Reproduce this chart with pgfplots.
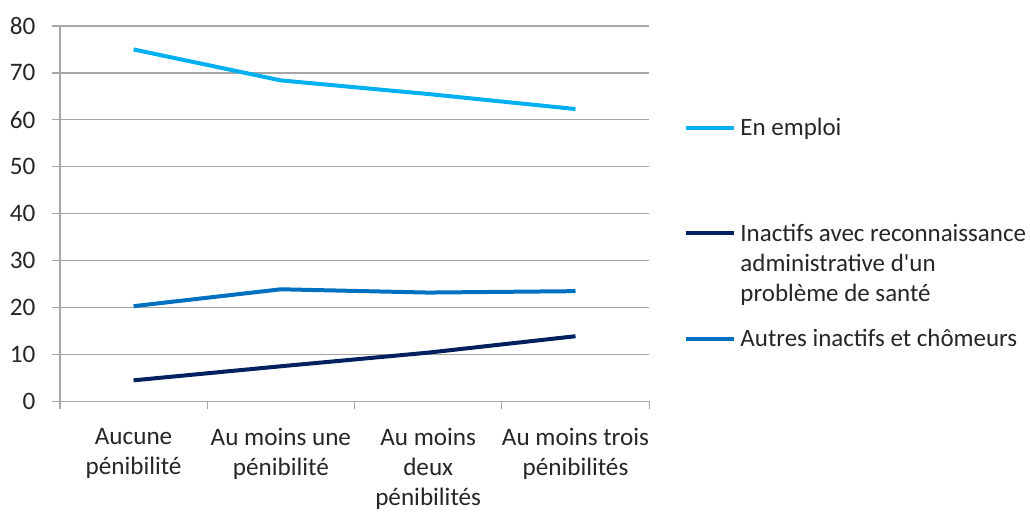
\documentclass[border=0pt]{standalone}
\usepackage{fontspec}
\setmainfont{Carlito}
\usepackage{pgfplots}
\pgfplotsset{compat=1.18}
\definecolor{cLight}{HTML}{00B0F0}
\definecolor{cNavy}{HTML}{002060}
\definecolor{cMid}{HTML}{0070C0}
\definecolor{cGrid}{HTML}{A6A6A6}
\definecolor{cText}{HTML}{262626}
\begin{document}
\fontsize{12.3}{15}\selectfont
\begin{tikzpicture}
\begin{axis}[
  name=ax,
  scale only axis,
  width=295pt, height=188pt,
  xmin=-0.5, xmax=3.5,
  ymin=0, ymax=80,
  ytick={0,10,...,80},
  xtick={0,1,2,3},
  xticklabels={Aucune\\pénibilité, Au moins une\\pénibilité, Au moins\\deux\\pénibilités, Au moins trois\\pénibilités},
  minor xtick={-0.5,0.5,1.5,2.5,3.5},
  major x tick style={draw=none},
  tick align=outside,
  major tick length=4pt,
  minor tick length=4pt,
  tick style={cGrid, line width=0.6pt},
  axis x line*=bottom,
  axis y line*=left,
  axis line style={cGrid, line width=0.6pt},
  ymajorgrids,
  grid style={cGrid, line width=0.6pt},
  /pgf/number format/assume math mode=true,
  ticklabel style={font=\fontsize{12.6}{15}\selectfont, text=cText},
  xticklabel style={align=center, yshift=-5pt},
  yticklabel style={xshift=-4pt},
  clip=false,
  legend cell align=left,
  legend style={draw=none, fill=none, at={(1,1)}, anchor=north west, xshift=17pt, yshift=-44pt,
    font=\fontsize{12.5}{15}\selectfont, text=cText, row sep=0pt, column sep=0pt, inner sep=0pt,
    cells={anchor=base west, inner sep=0.6pt}},
  legend image code/.code={\draw[#1] (1.5pt,4pt) -- (26pt,4pt);},
]
\addplot[cLight, line width=2pt] coordinates {(0,75.0) (1,68.4) (2,65.5) (3,62.3)};
\addlegendentry{En emploi}
\addplot[cNavy, line width=2pt] coordinates {(0,4.5) (1,7.5) (2,10.4) (3,13.9)};
\addlegendentry{\begin{tabular}[t]{@{}l@{}}\rule{0pt}{47pt}Inactifs avec reconnaissance\\administrative d\textquotesingle un\\problème de santé\end{tabular}}
\addplot[cMid, line width=2pt] coordinates {(0,20.3) (1,23.9) (2,23.2) (3,23.5)};
\addlegendentry{\rule{0pt}{47pt}Autres inactifs et chômeurs}
\end{axis}
\path (ax.south west) ++(-30pt,-52pt) coordinate (a);
\path (ax.north east) ++(190pt,13pt) coordinate (b);
\path (a) rectangle (b);
\end{tikzpicture}
\end{document}
